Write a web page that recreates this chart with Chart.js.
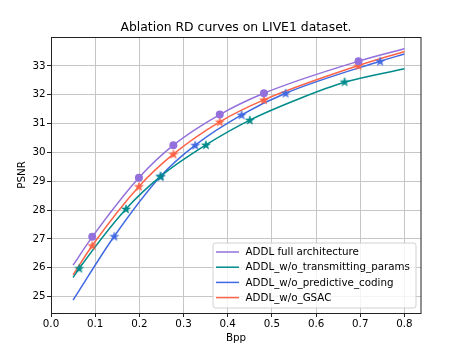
<!DOCTYPE html>
<html><head><meta charset="utf-8">
<script src="https://cdn.jsdelivr.net/npm/chart.js@4"></script>
<style>html,body{margin:0;padding:0;background:#fff}</style>
</head><body>
<canvas id="c" width="475" height="357" style="display:block;width:475px;height:357px"></canvas>
<script>
// ---- data ----
const titleText = 'Ablation RD curves on LIVE1 dataset.';
const xLabel = 'Bpp';
const yLabel = 'PSNR';
const xTicks = [0.0, 0.1, 0.2, 0.3, 0.4, 0.5, 0.6, 0.7, 0.8];
const yTicks = [25, 26, 27, 28, 29, 30, 31, 32, 33];
const seriesNames = ['ADDL full architecture', 'ADDL_w/o_transmitting_params', 'ADDL_w/o_predictive_coding', 'ADDL_w/o_GSAC'];
const seriesColors = ['#9370DB', '#008B8B', '#4169E1', '#FF6347'];

// markers
const fullBpp  = [0.0934, 0.199, 0.277, 0.382, 0.482, 0.696];
const fullPsnr = [27.07, 29.12, 30.25, 31.31, 32.05, 33.16];
const transBpp  = [0.064, 0.1697, 0.248, 0.3507, 0.450, 0.6645];
const transPsnr = [25.98, 28.04, 29.17, 30.26, 31.12, 32.45];
const predBpp  = [0.1432, 0.248, 0.3265, 0.4314, 0.531, 0.745];
const predPsnr = [27.09, 29.17, 30.25, 31.30, 32.05, 33.16];
const gsacBpp  = [0.0934, 0.199, 0.277, 0.382, 0.482, 0.696];
const gsacPsnr = [26.77, 28.82, 29.94, 31.06, 31.82, 33.01];

// fitted curves
const fullCurveBpp  = [0.05, 0.0934, 0.199, 0.277, 0.382, 0.482, 0.696, 0.8];
const fullCurvePsnr = [26.09, 27.07, 29.12, 30.25, 31.31, 32.05, 33.16, 33.59];
const transCurveBpp  = [0.05, 0.064, 0.1697, 0.248, 0.3507, 0.450, 0.5633, 0.6645, 0.8];
const transCurvePsnr = [25.66, 25.98, 28.04, 29.17, 30.26, 31.12, 31.87, 32.43, 32.90];
const predCurveBpp  = [0.05, 0.1432, 0.248, 0.3265, 0.4314, 0.531, 0.745, 0.8];
const predCurvePsnr = [24.88, 27.09, 29.17, 30.25, 31.30, 32.05, 33.16, 33.41];
const gsacCurveBpp  = [0.05, 0.0934, 0.199, 0.277, 0.382, 0.482, 0.696, 0.8];
const gsacCurvePsnr = [25.75, 26.77, 28.82, 29.94, 31.06, 31.82, 33.01, 33.50];

const xRange = [0.0, 0.8375];
const yRange = [24.43, 34.0];

// ---- build chart ----
const FONT = 'DejaVu Sans';
const pts = (xs, ys) => xs.map((x, i) => ({x: x, y: ys[i]}));

function makeStar(color, R) {
  const s = Math.ceil(2 * R + 2);
  const c = document.createElement('canvas');
  c.width = s; c.height = s;
  const g = c.getContext('2d');
  const cx = s / 2, cy = s / 2 + 0.4;
  g.beginPath();
  for (let i = 0; i < 10; i++) {
    const r = (i % 2) ? R * 0.382 : R;
    const a = -Math.PI / 2 + i * Math.PI / 5;
    const px = cx + r * Math.cos(a), py = cy + r * Math.sin(a);
    if (i === 0) g.moveTo(px, py); else g.lineTo(px, py);
  }
  g.closePath();
  g.fillStyle = color; g.fill();
  g.lineWidth = 0.6; g.strokeStyle = color; g.stroke();
  return c;
}

const curves = [
  pts(fullCurveBpp, fullCurvePsnr),
  pts(transCurveBpp, transCurvePsnr),
  pts(predCurveBpp, predCurvePsnr),
  pts(gsacCurveBpp, gsacCurvePsnr)
];
const markers = [
  pts(fullBpp, fullPsnr),
  pts(transBpp, transPsnr),
  pts(predBpp, predPsnr),
  pts(gsacBpp, gsacPsnr)
];

const datasets = [];
for (let i = 0; i < 4; i++) {
  datasets.push({
    label: seriesNames[i], data: curves[i], showLine: true,
    borderColor: seriesColors[i], backgroundColor: seriesColors[i],
    borderWidth: 1.5, pointRadius: 0, pointHoverRadius: 0,
    cubicInterpolationMode: 'monotone', order: 10 + i, isCurve: true
  });
}
for (let i = 0; i < 4; i++) {
  const isCircle = i === 0;
  datasets.push({
    label: seriesNames[i] + ' points', data: markers[i], showLine: false,
    borderColor: seriesColors[i], backgroundColor: seriesColors[i],
    pointStyle: isCircle ? 'circle' : makeStar(seriesColors[i], 4.6),
    pointRadius: isCircle ? 4 : 5, pointBorderWidth: 0,
    order: i, isCurve: false
  });
}

const decorPlugin = {
  id: 'decor',
  afterDatasetsDraw(chart) {
    const {ctx, chartArea: a} = chart;
    ctx.save();
    ctx.strokeStyle = '#222';
    ctx.lineWidth = 1;
    ctx.strokeRect(Math.round(a.left) + 0.5, Math.round(a.top) + 0.5,
                   Math.round(a.right - a.left) - 0.5, Math.round(a.bottom - a.top));
    ctx.restore();
  },
  afterDraw(chart) {
    const {ctx, chartArea: a} = chart;
    ctx.save();
    ctx.fillStyle = '#000';
    // title
    ctx.font = '12.4px "' + FONT + '"';
    ctx.textAlign = 'center'; ctx.textBaseline = 'alphabetic';
    ctx.fillText(titleText, (a.left + a.right) / 2, 31);
    // x label
    ctx.font = '10.3px "' + FONT + '"';
    ctx.fillText(xLabel, (a.left + a.right) / 2, 341);
    // y label
    ctx.save();
    ctx.translate(25, (a.top + a.bottom) / 2);
    ctx.rotate(-Math.PI / 2);
    ctx.fillText(yLabel, 0, 0);
    ctx.restore();
    // legend
    const lx = 213, ly = 243, lw = 203, lh = 65, r = 2.5;
    ctx.beginPath();
    ctx.moveTo(lx + r, ly);
    ctx.arcTo(lx + lw, ly, lx + lw, ly + lh, r);
    ctx.arcTo(lx + lw, ly + lh, lx, ly + lh, r);
    ctx.arcTo(lx, ly + lh, lx, ly, r);
    ctx.arcTo(lx, ly, lx + lw, ly, r);
    ctx.closePath();
    ctx.fillStyle = 'rgba(255,255,255,0.8)';
    ctx.fill();
    ctx.strokeStyle = '#d0d0d0'; ctx.lineWidth = 1;
    ctx.stroke();
    const rows = [252, 267.2, 282.4, 297.6];
    ctx.textAlign = 'left'; ctx.textBaseline = 'middle';
    ctx.font = '10.3px "' + FONT + '"';
    chart.data.datasets.filter(d => d.isCurve).forEach((d, i) => {
      ctx.strokeStyle = d.borderColor; ctx.lineWidth = 1.5;
      ctx.beginPath(); ctx.moveTo(216, rows[i]); ctx.lineTo(239, rows[i]); ctx.stroke();
      ctx.fillStyle = '#000';
      ctx.fillText(d.label, 245.5, rows[i] + 0.5);
    });
    ctx.restore();
  }
};

new Chart(document.getElementById('c'), {
  type: 'scatter',
  data: {datasets: datasets},
  options: {
    responsive: false, animation: false,
    layout: {padding: {left: 0, right: 54, top: 37, bottom: 0}},
    plugins: {legend: {display: false}, title: {display: false}, tooltip: {enabled: false}},
    scales: {
      x: {
        type: 'linear', min: xRange[0], max: xRange[1],
        afterBuildTicks: s => { s.ticks = xTicks.map(v => ({value: v})); },
        afterFit: s => { s.height = 44; },
        ticks: {color: '#000', padding: 1, font: {family: FONT, size: 10.3},
                callback: v => Number(v).toFixed(1), maxRotation: 0, autoSkip: false},
        grid: {color: '#c6c6c6', lineWidth: 1, tickColor: '#222', tickLength: 4},
        border: {display: false}
      },
      y: {
        type: 'linear', min: yRange[0], max: yRange[1],
        afterBuildTicks: s => { s.ticks = yTicks.map(v => ({value: v})); },
        afterFit: s => { s.width = 51; },
        ticks: {color: '#000', padding: 1.5, font: {family: FONT, size: 10.3},
                callback: v => String(v), autoSkip: false},
        grid: {color: '#c6c6c6', lineWidth: 1, tickColor: '#222', tickLength: 4},
        border: {display: false}
      }
    }
  },
  plugins: [decorPlugin]
});
</script>
</body></html>
